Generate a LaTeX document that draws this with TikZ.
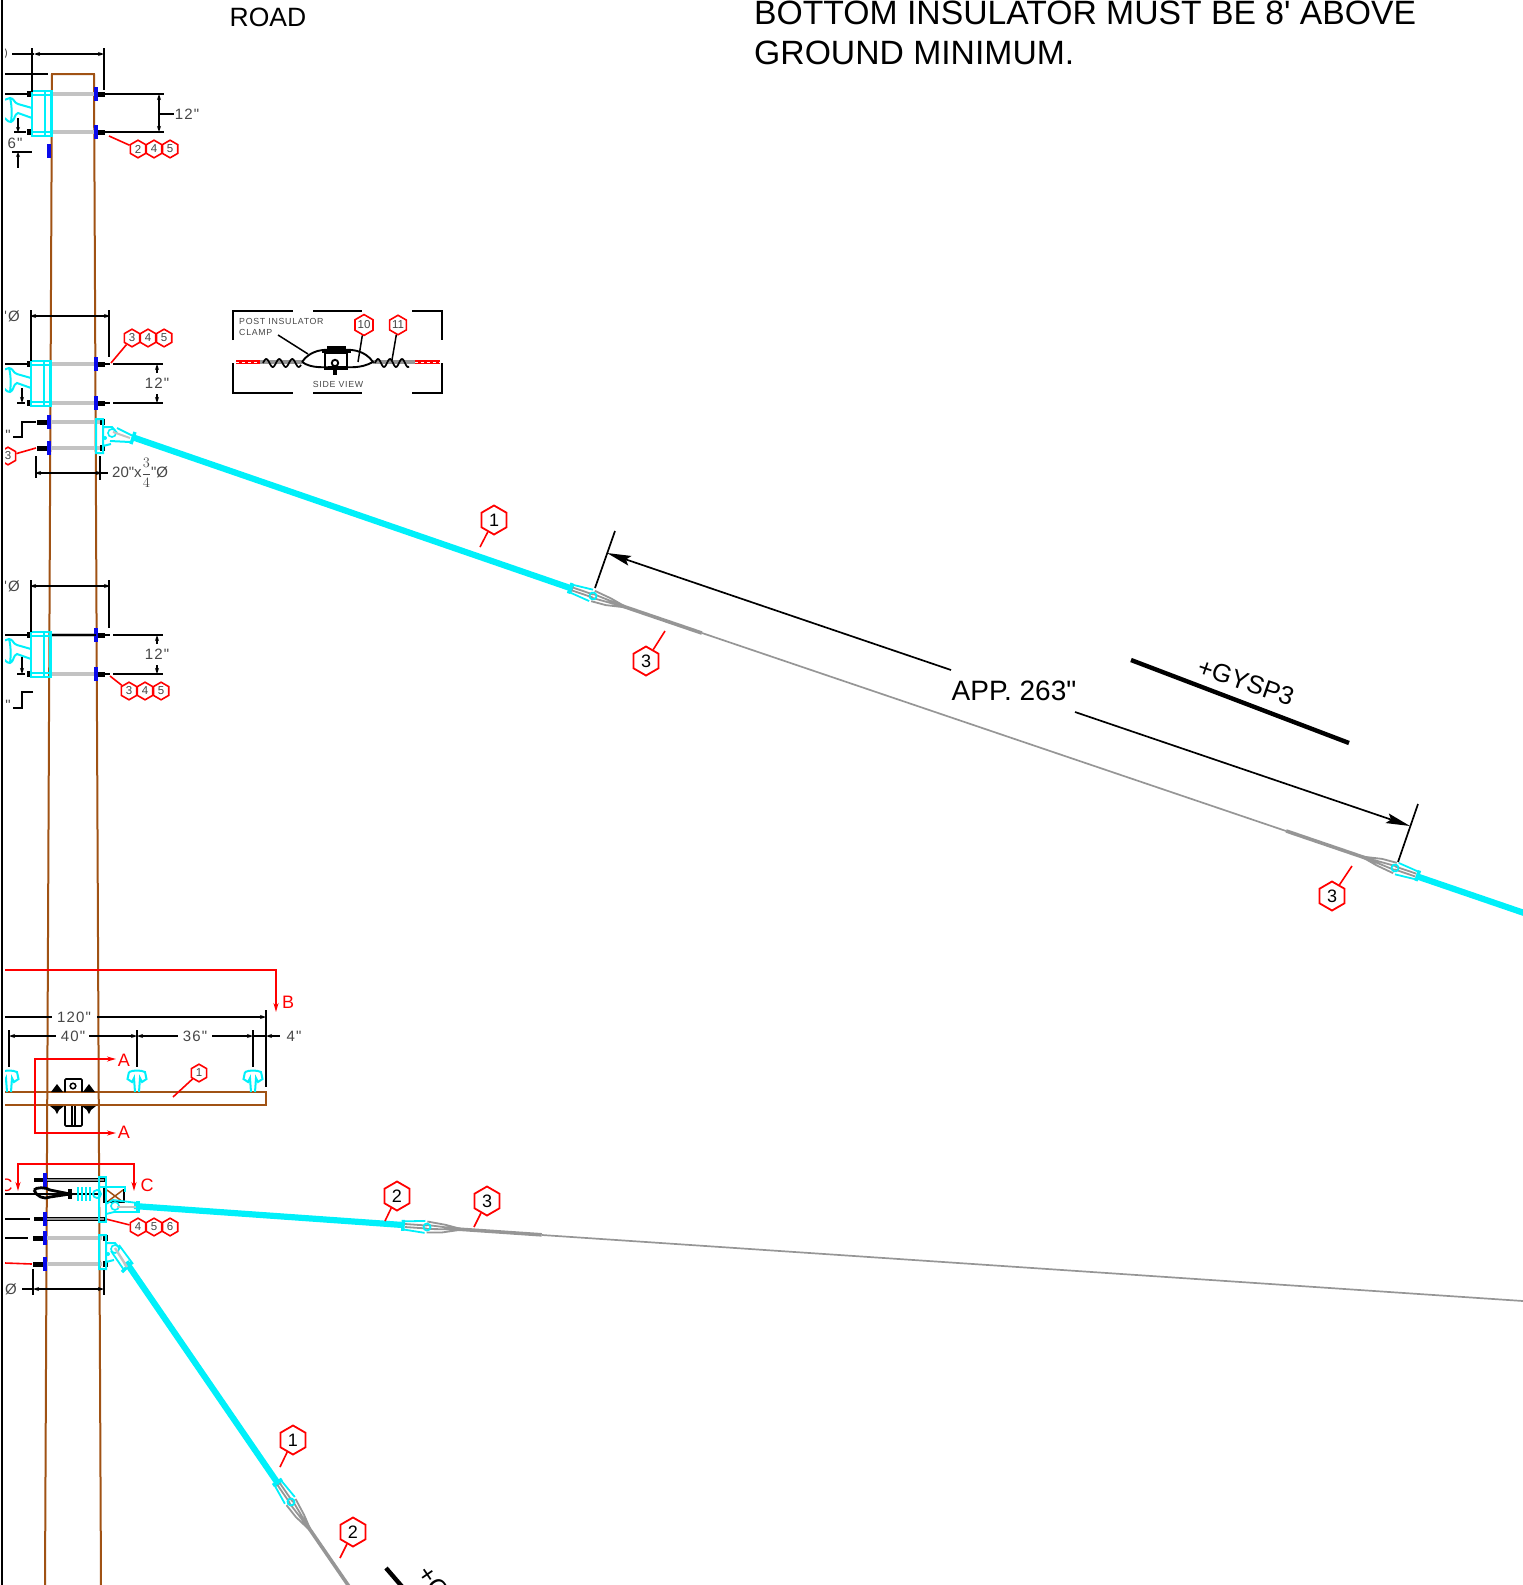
\documentclass[tikz,border=0pt]{standalone}
\usepackage{xcolor}
\usepackage{fontspec}
\usetikzlibrary{shapes.geometric, arrows.meta, positioning, calc}
\setmainfont{Liberation Sans}
\newfontfamily\plainsans{Liberation Sans}
\newfontfamily\cadsans[LetterSpace=8]{Liberation Sans}
\definecolor{polebrown}{RGB}{160,82,20}
\definecolor{wirecyan}{RGB}{0,240,250}
\definecolor{washerblue}{RGB}{10,10,235}
\definecolor{guygray}{RGB}{150,150,150}
\definecolor{rodgray}{RGB}{195,195,195}
\definecolor{cadtext}{RGB}{70,70,70}
\tikzset{
    gripend/.pic={
        \draw[guygray, line width=1.8] (0,-5.5) -- (18,-3.5) -- (36,0) (0,5.5) -- (15,4.5) -- (36,0) (0,-2) -- (36,0) (0,2) -- (36,0) (-22,-1.5) -- (0,-1.5) (-22,1.5) -- (0,1.5);
        \draw[guygray, line width=3.6] (30,0) -- (115,0);
        \draw[wirecyan, line width=1.8] (-24,-4) -- (-2,-6) (-24,4) -- (-2,6) (0,0) circle (3.5);
        \draw[wirecyan, line width=3.4] (-24,-5.5) -- (-24,5.5);
    },
    postside/.pic={
        \draw[wirecyan, line width=2] (0,-5) -- (-14,-9) .. controls (-18,-10) and (-18,-15) .. (-22,-15) -- (-28,-13) (0,5) -- (-14,0) .. controls (-18,1) and (-17,8) .. (-21,9) .. controls (-25,9) and (-26,5) .. (-28,5) (-22,-15) .. controls (-20,-8) and (-20,2) .. (-21,9);
    },
    posttop/.pic={
        \draw[wirecyan, line width=2] (-8,-20) .. controls (-4,-22) and (4,-22) .. (8,-20) -- (9.5,-13) -- (5,-10) -- (3,-14) -- (2,0) (-8,-20) -- (-9.5,-13) -- (-5,-10) -- (-3,-14) -- (-2,0);
    },
    bracketside/.pic={
        \draw[wirecyan, line width=2.2] (0,0) rectangle (20,45) (13,0) -- (13,45) (19,0) -- (19,45) (0,4) -- (20,4) (0,41) -- (20,41);
    },
    clevisplate/.pic={
        \draw[wirecyan, line width=2] (0,0) rectangle (7,34) (7,8) -- (16,8) -- (21,14) (7,27) -- (15,25);
        \draw[wirecyan, fill=white, line width=1.6] (16,14) circle (4);
        \fill[wirecyan] (9,19) circle (2);
    }
}
\begin{document}
\begin{tikzpicture}[
    x=1pt, y=-1pt,
    polesty/.style={polebrown, line width=2},
    rodsty/.style={rodgray, line width=3.6},
    washer/.style={washerblue, line width=4.4},
    nut/.style={black, line width=5},
    cadline/.style={black, line width=1.8},
    dimarrow/.style={cadline, {Stealth[length=6pt,width=4pt]}-{Stealth[length=6pt,width=4pt]}},
    dimtip/.style={cadline, -{Stealth[length=6pt,width=4pt]}},
    cablesty/.style={wirecyan, line width=6.2},
    thinguy/.style={guygray, line width=1.7},
    leader/.style={red, line width=1.6},
    section/.style={red, line width=1.6},
    sectiontip/.style={section, -{Stealth[length=9pt,width=5pt]}},
    hexbig/.style={draw=red, line width=1.8, fill=white, regular polygon, regular polygon sides=6, shape border rotate=30, minimum size=29pt, inner sep=0pt, text=black, font=\plainsans\fontsize{18}{18}\selectfont},
    hexsmall/.style={draw=red, line width=1.6, fill=white, regular polygon, regular polygon sides=6, shape border rotate=30, minimum size=17.6pt, inner sep=0pt, text=cadtext, font=\plainsans\fontsize{11.5}{11.5}\selectfont},
    cadlabel/.style={text=cadtext, inner sep=0pt, font=\cadsans\fontsize{15}{15}\selectfont},
    cadsmall/.style={text=cadtext, inner sep=0pt, align=left, font=\cadsans\fontsize{8.8}{11}\selectfont},
    seclabel/.style={text=red, inner sep=0pt, font=\plainsans\fontsize{18}{18}\selectfont},
    bigtext/.style={text=black, inner sep=0pt, font=\plainsans\fontsize{28}{28}\selectfont}
]
    \useasboundingbox (0,0) rectangle (1523,1585);
    \clip (0,0) rectangle (1523,1585);

    % Header notes
    \node[bigtext, font=\plainsans\fontsize{26.5}{26.5}\selectfont] (road) at (268,17) {ROAD};
    \node[bigtext, anchor=west, align=left, font=\plainsans\fontsize{33.7}{40}\selectfont] (note) at (754,33) {BOTTOM INSULATOR MUST BE 8' ABOVE\\GROUND MINIMUM.};

    % Pole
    \draw[polesty] (45,1585) -- (52,74) -- (94,74) -- (101,1585);

    % Upper cable
    \coordinate (tieA) at (132,437);
    \coordinate (cuffA) at (573,589);
    \coordinate (thinA) at (702,633);
    \coordinate (thinB) at (1286,831);
    \coordinate (cuffB) at (1416,876);
    \coordinate (tieB) at (1530,915);
    \draw[cablesty] (tieA) -- (cuffA);
    \draw[cablesty] (cuffB) -- (tieB);
    \draw[thinguy] (thinA) -- (thinB);
    \pic[rotate=-18.8] at (593,596) {gripend};
    \pic[rotate=161.2] at (1395,868) {gripend};

    % Middle cable
    \coordinate (tieC) at (134,1206);
    \coordinate (cuffC) at (403,1225);
    \coordinate (thinC) at (542,1235);
    \coordinate (thinD) at (1523,1301);
    \draw[cablesty] (tieC) -- (cuffC);
    \draw[thinguy] (thinC) -- (thinD);
    \pic[rotate=-3.9] at (427,1227) {gripend};

    % Lower cable
    \coordinate (tieE) at (126,1262);
    \coordinate (cuffE) at (279,1485);
    \draw[cablesty] (tieE) -- (cuffE);
    \pic[rotate=-55.5] at (291,1502) {gripend};

    % Span dimension
    \node[bigtext] (span) at (1014,691) {APP. 263"};
    \coordinate (tickA) at (615,531);
    \coordinate (tickAb) at (595,588);
    \coordinate (tickB) at (1418,804);
    \coordinate (tickBb) at (1398,862);
    \coordinate (tipA) at (607,553);
    \coordinate (tipB) at (1410,826);
    \coordinate (startA) at (951,670);
    \coordinate (startB) at (1075,712);
    \draw[black, line width=1.7] (tickA) -- (tickAb);
    \draw[black, line width=1.7] (tickB) -- (tickBb);
    \draw[black, line width=1.7, -{Stealth[length=24pt,width=10pt,inset=4pt]}] (startA) -- (tipA);
    \draw[black, line width=1.7, -{Stealth[length=24pt,width=10pt,inset=4pt]}] (startB) -- (tipB);

    % Span bars
    \coordinate (barA) at (1131,660);
    \coordinate (barB) at (1349,743);
    \draw[black, line width=4.4] (barA) -- (barB);
    \node[bigtext, rotate=-19, font=\plainsans\fontsize{25.5}{25.5}\selectfont] (gysp) at (1246,682) {+GYSP3};
    \coordinate (barC) at (386,1568);
    \coordinate (barD) at (405,1590);
    \draw[black, line width=4.4] (barC) -- (barD);
    \node[bigtext, rotate=-55.5, anchor=west, font=\plainsans\fontsize{25.5}{25.5}\selectfont] at (424,1568) {+G};

    % Big callouts
    \foreach \hexname/\hexnum/\hexx/\hexy/\tipx/\tipy in {hexa/1/494/520/480/547, hexb/3/646/661/665/631, hexc/3/1332/896/1352/866, hexd/2/397/1196/385/1221, hexe/3/487/1201/474/1227, hexf/1/293/1440/280/1467, hexg/2/353/1532/340/1558} {
        \node[hexbig] (\hexname) at (\hexx,\hexy) {\hexnum};
        \coordinate (\hexname tip) at (\tipx,\tipy);
        \draw[leader] (\hexname) -- (\hexname tip);
    }

    % Through bolts, pole-side right
    \foreach \by in {94,132,364,403,635,674} {
        \draw[rodsty] (50,\by) -- (95,\by);
        \draw[nut] (96,\by) -- (105,\by);
        \draw[black, line width=2.4] (105,\by) -- (110,\by);
        \draw[washer] (96,\by-7) -- (96,\by+7);
        \draw[nut] (29,\by-3) -- (29,\by+3);
    }
    \draw[black, line width=1.8] (50,635) -- (96,635);
    \draw[washer] (49,144) -- (49,158);
    \pic at (32,91) {bracketside};
    \pic at (31,361) {bracketside};
    \pic at (31,632) {bracketside};
    \pic at (32,113) {postside};
    \pic at (31,383) {postside};
    \pic at (31,654) {postside};

    % Through bolts, pole-side left
    \foreach \by in {422,448} {
        \draw[rodsty] (50,\by) -- (100,\by);
        \draw[nut] (37,\by) -- (47,\by);
        \draw[washer] (49,\by-7) -- (49,\by+7);
        \draw[nut] (102,\by-3) -- (102,\by+3);
    }
    \pic at (96,419) {clevisplate};
    \draw[wirecyan, line width=2] (117,428) -- (133,436) (110,441) -- (130,442);
    \draw[rodgray, line width=2] (113,432) -- (130,438);
    \draw[wirecyan, line width=3.4] (135,432) -- (131,444);

    % Dimensions, first group
    \draw[dimarrow] (34,54) -- (104,54);
    \draw[cadline] (12,54) -- (34,54);
    \draw[cadline] (32,48) -- (32,92);
    \draw[cadline] (104,48) -- (104,90);
    \draw[cadline] (5,74) -- (48,74);
    \draw[cadline] (5,94) -- (30,94);
    \draw[cadline] (109,94) -- (164,94);
    \draw[cadline] (109,132) -- (164,132);
    \draw[dimarrow] (159,94) -- (159,132);
    \draw[cadline] (159,114) -- (174,114);
    \node[cadlabel] (dimtwelvea) at (187,114) {12"};
    \node[cadlabel, font=\plainsans\fontsize{11}{11}\selectfont] at (6,54) {)};
    \draw[cadline, {Stealth[length=5pt,width=4pt]}-] (18,132) -- (18,118);
    \draw[cadline, {Stealth[length=5pt,width=4pt]}-] (18,152) -- (18,168);
    \draw[cadline] (14,132) -- (26,132);
    \draw[cadline] (12,152) -- (32,152);
    \node[cadlabel] (dimsix) at (15,143) {6"};

    % Dimensions, second and third group
    \foreach \dy/\by/\bz/\labely in {316/364/403/383, 586/635/674/654} {
        \draw[dimarrow] (30,\dy) -- (110,\dy);
        \draw[cadline] (31,\dy-6) -- (31,\by-3);
        \draw[cadline] (109,\dy-6) -- (109,\by-7);
        \draw[cadline] (113,\by) -- (163,\by);
        \draw[cadline] (113,\bz) -- (163,\bz);
        \draw[dimtip] (157,\by+9) -- (157,\by);
        \draw[dimtip] (157,\bz-9) -- (157,\bz);
        \node[cadlabel] at (157,\labely) {12"};
        \node[cadlabel] at (12,\dy) {'Ø};
        \draw[cadline] (17,\bz) -- (25,\bz);
    }
    \draw[cadline] (5,364) -- (30,364);
    \draw[cadline] (5,635) -- (30,635);
    \draw[dimtip] (22,388) -- (22,403);
    \draw[dimtip] (22,657) -- (22,674);
    \draw[cadline] (36,422) -- (22,422) -- (22,437) -- (13,437);
    \draw[cadline] (33,692) -- (22,692) -- (22,708) -- (13,708);
    \node[cadlabel] at (8,435) {"};
    \node[cadlabel] at (8,705) {"};
    \draw[dimarrow] (35,473) -- (102,473);
    \draw[cadline] (36,456) -- (36,478);
    \draw[cadline] (100,456) -- (100,480);
    \draw[cadline] (100,473) -- (108,473);
    \node[cadlabel, anchor=west, font=\plainsans\fontsize{15}{15}\selectfont] at (112,473) {20"x$\displaystyle\frac{3}{4}$"Ø};

    % Small callouts
    \foreach \grpname/\numa/\numb/\numc/\grpx/\grpy/\tipx/\tipy in {grpa/2/4/5/138/149/109/136, grpb/3/4/5/132/338/111/363, grpc/3/4/5/129/691/110/676, grpd/4/5/6/138/1227/106/1219} {
        \node[hexsmall] (\grpname a) at (\grpx,\grpy) {\numa};
        \node[hexsmall, right=-0.8pt of \grpname a] (\grpname b) {\numb};
        \node[hexsmall, right=-0.8pt of \grpname b] (\grpname c) {\numc};
        \coordinate (\grpname tip) at (\tipx,\tipy);
        \draw[leader] (\grpname a) -- (\grpname tip);
    }
    \node[hexsmall] (lefthex) at (8,456) {3};
    \coordinate (lefttip) at (36,448);
    \draw[leader] (lefthex) -- (lefttip);

    % Side view inset
    \foreach \ya/\yb in {311/340, 393/363} {
        \draw[cadline] (233,\yb) -- (233,\ya) -- (293,\ya);
        \draw[cadline] (313,\ya) -- (362,\ya);
        \draw[cadline] (412,\ya) -- (442,\ya) -- (442,\yb);
    }
    \node[cadsmall, anchor=north west] (clamptext) at (239,318) {POST INSULATOR\\CLAMP};
    \node[cadsmall] (sideview) at (338,384) {SIDE VIEW};
    \draw[red, line width=4.4] (236,362) -- (260,362);
    \draw[red, line width=4.4] (415,362) -- (440,362);
    \draw[white, line width=0.8, dash pattern=on 3pt off 3pt] (236,362) -- (260,362) (415,362) -- (440,362);
    \draw[guygray, line width=3.6] (260,362) -- (302,362);
    \draw[guygray, line width=3.6] (373,362) -- (415,362);
    \draw[black, line width=1.7, domain=0:38, samples=50, smooth] plot ({263+\x},{363-4*sin(\x*360/13)});
    \draw[black, line width=1.7, domain=0:34, samples=50, smooth] plot ({375+\x},{363-4*sin(\x*360/12)});
    \draw[black, line width=1.9, fill=white] (302,362) .. controls (310,350) and (325,348) .. (337,351) .. controls (350,348) and (365,350) .. (373,362) .. controls (360,369) and (350,367) .. (337,367) .. controls (325,367) and (312,369) .. (302,362);
    \fill[black] (322,349) rectangle (351,353);
    \fill[black] (327,346) rectangle (346,351);
    \draw[black, line width=1.7] (325,353) rectangle (347,369);
    \draw[black, line width=1.9, fill=white] (335,363) circle (3.2);
    \fill[black] (333,369) rectangle (337,375);
    \coordinate (clamptip) at (308,354);
    \coordinate (clampstart) at (278,335);
    \draw[black, line width=1.5] (clampstart) -- (clamptip);
    \node[hexsmall] (hexten) at (364,325) {10};
    \node[hexsmall] (hexeleven) at (398,325) {11};
    \coordinate (tentip) at (358,362);
    \coordinate (eleventip) at (392,360);
    \draw[black, line width=1.5] (hexten) -- (tentip);
    \draw[black, line width=1.5] (hexeleven) -- (eleventip);

    % Crossarm
    \draw[polesty] (5,1092) -- (266,1092) -- (266,1105) -- (5,1105);
    \foreach \px in {9,137,253} {
        \pic at (\px,1092) {posttop};
        \draw[cadline] (\px,1030) -- (\px,1067);
    }
    \draw[cadline] (266,1010) -- (266,1087);
    \draw[cadline] (5,1017) -- (52,1017);
    \draw[dimtip] (97,1017) -- (266,1017);
    \node[cadlabel] (dimtwenty) at (74,1017) {120"};
    \draw[cadline, {Stealth[length=6pt,width=4pt]}-] (9,1036) -- (56,1036);
    \draw[dimtip] (89,1036) -- (137,1036);
    \node[cadlabel] (dimforty) at (73,1036) {40"};
    \draw[cadline, {Stealth[length=6pt,width=4pt]}-] (137,1036) -- (178,1036);
    \draw[dimtip] (212,1036) -- (253,1036);
    \node[cadlabel] (dimthirty) at (195,1036) {36"};
    \draw[cadline, {Stealth[length=6pt,width=4pt]}-] (266,1036) -- (280,1036);
    \draw[cadline] (253,1036) -- (266,1036);
    \node[cadlabel] (dimfour) at (294,1036) {4"};

    % Crossarm clamp
    \draw[black, line width=1.7, rounded corners=1pt] (65,1092) -- (65,1079) -- (82,1079) -- (82,1092) (65,1106) -- (65,1126) -- (82,1126) -- (82,1106) (72,1106) -- (72,1125) (75,1106) -- (75,1125);
    \draw[black, line width=1.5] (73,1086) circle (2.8);
    \foreach \tx in {57,89} {
        \fill[black] (\tx-6,1092) -- (\tx,1084) -- (\tx+6,1092) -- cycle;
        \fill[black] (\tx-7,1106) -- (\tx+7,1106) -- (\tx+2,1110) -- (\tx,1114) -- (\tx-2,1110) -- cycle;
    }
    \node[hexsmall] (hexarm) at (199,1073) {1};
    \coordinate (armtip) at (173,1097);
    \draw[leader] (hexarm) -- (armtip);

    % Section marks
    \coordinate (secBa) at (5,970);
    \coordinate (secBb) at (276,970);
    \coordinate (secBc) at (276,1012);
    \draw[sectiontip] (secBa) -- (secBb) -- (secBc);
    \node[seclabel] (labelB) at (288,1002) {B};
    \coordinate (secAa) at (116,1059);
    \coordinate (secAb) at (35,1059);
    \coordinate (secAc) at (35,1133);
    \coordinate (secAd) at (116,1133);
    \draw[section, {Stealth[length=9pt,width=5pt]}-{Stealth[length=9pt,width=5pt]}] (secAa) -- (secAb) -- (secAc) -- (secAd);
    \node[seclabel] (labelAa) at (124,1060) {A};
    \node[seclabel] (labelAb) at (124,1132) {A};
    \coordinate (secCa) at (18,1191);
    \coordinate (secCb) at (18,1164);
    \coordinate (secCc) at (134,1164);
    \coordinate (secCd) at (134,1191);
    \draw[section, {Stealth[length=9pt,width=5pt]}-{Stealth[length=9pt,width=5pt]}] (secCa) -- (secCb) -- (secCc) -- (secCd);
    \node[seclabel] (labelCb) at (147,1185) {C};
    \node[seclabel] (labelCa) at (6,1185) {C};

    % Lower hardware
    \foreach \by in {1180,1219} {
        \draw[black, line width=4.4] (34,\by) -- (106,\by);
        \draw[guygray, line width=1.2] (46,\by) -- (104,\by);
        \draw[washer] (45,\by-7) -- (45,\by+7);
    }
    \foreach \by in {1238,1264} {
        \draw[rodsty] (46,\by) -- (102,\by);
        \draw[nut] (33,\by) -- (44,\by);
        \draw[washer] (45,\by-7) -- (45,\by+7);
        \draw[nut] (105,\by-3) -- (105,\by+3);
    }
    \draw[cadline] (5,1219) -- (30,1219);
    \draw[cadline] (5,1238) -- (28,1238);
    \draw[leader] (5,1263) -- (32,1264);

    % Suspension string
    \draw[cadline] (5,1194) -- (100,1194);
    \draw[black, line width=2.8] (34,1190) .. controls (36,1187) and (46,1187) .. (50,1190) -- (70,1194) -- (50,1197) .. controls (44,1200) and (36,1196) .. (34,1190);
    \draw[black, line width=3.6] (70,1189) -- (70,1199);
    \foreach \dx in {78,82,86,90} {
        \draw[wirecyan, line width=2] (\dx,1187) -- (\dx,1201);
    }
    \draw[wirecyan, line width=1.8] (97,1194) circle (4);
    \draw[black, line width=3] (104,1188) -- (104,1203);
    \draw[polebrown, line width=1.5] (107,1190) -- (123,1202) (107,1202) -- (123,1190);
    \draw[black, line width=1.7] (106,1202) -- (125,1202) (124,1189) -- (124,1202);
    \draw[wirecyan, line width=2] (100,1187) -- (125,1187) -- (125,1192);
    \draw[wirecyan, line width=2.2] (99,1177) rectangle (106,1222);
    \draw[wirecyan, line width=1.8] (106,1204) -- (113,1200) -- (138,1203) (106,1214) -- (114,1212) -- (136,1212);
    \draw[wirecyan, fill=white, line width=1.6] (115,1206) circle (4);
    \draw[rodgray, line width=2.4] (117,1207) -- (137,1207);
    \draw[wirecyan, line width=3.4] (138,1201) -- (138,1213);
    \pic at (99,1235) {clevisplate};
    \draw[wirecyan, line width=1.8] (119,1245) -- (133,1264) (111,1251) -- (124,1270);
    \draw[wirecyan, line width=3.4] (122,1272) -- (132,1262);
    \draw[rodgray, line width=2.4] (115,1248) -- (127,1267);

    % Bottom dimension
    \draw[dimarrow] (33,1289) -- (104,1289);
    \draw[cadline] (22,1289) -- (33,1289);
    \draw[cadline] (33,1269) -- (33,1295);
    \draw[cadline] (104,1270) -- (104,1295);
    \node[cadlabel] (dimdia) at (11,1289) {Ø};

    % Sheet edge
    \fill[white] (3,0) rectangle (5,1585);
    \fill[white] (0,0) rectangle (1,1585);
    \draw[black, line width=2] (2,0) -- (2,1585);
\end{tikzpicture}
\end{document}
